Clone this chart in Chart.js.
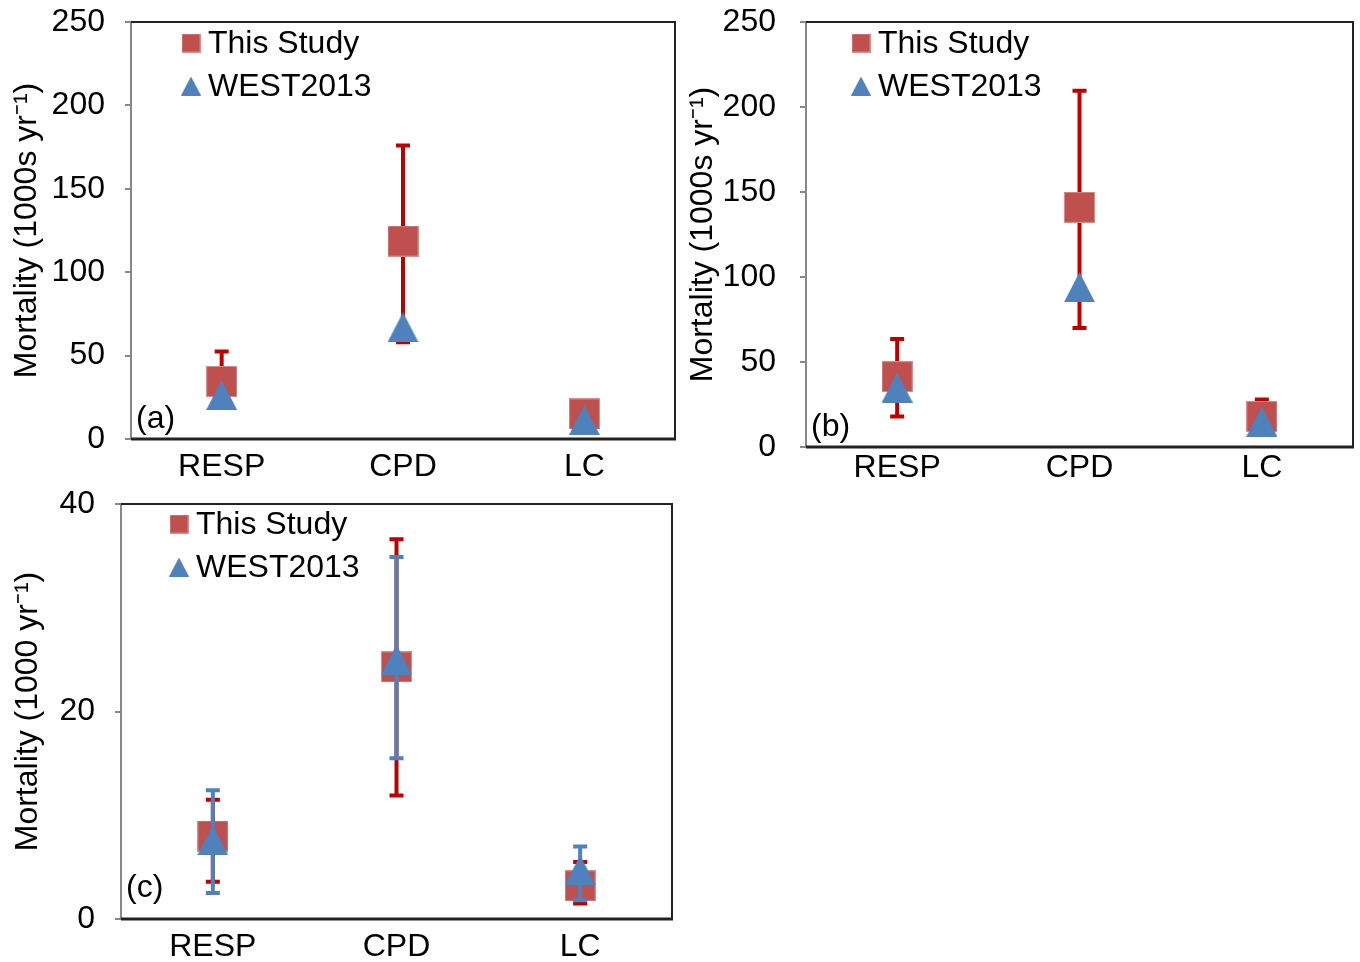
<!DOCTYPE html>
<html>
<head>
<meta charset="utf-8">
<script src="https://cdn.jsdelivr.net/npm/chart.js@4.4.1/dist/chart.umd.min.js"></script>
<style>
  body { margin: 0; background: #fff; overflow: hidden; }
  #wrap { position: relative; width: 1360px; height: 962px; background: #fff; overflow: hidden; }
  canvas { position: absolute; }
</style>
</head>
<body>
<div id="wrap">
  <canvas id="chartA" width="690" height="490" style="left:0px;top:0px"></canvas>
  <canvas id="chartB" width="680" height="490" style="left:680px;top:0px"></canvas>
  <canvas id="chartC" width="690" height="482" style="left:0px;top:480px"></canvas>
</div>
<script>
// categories and series values
const categories = ["RESP", "CPD", "LC"];
const seriesNames = ["This Study", "WEST2013"];

// panel (a)
const studyA = [34.5, 118.7, 15];
const studyA_lo = [22, 58, null];
const studyA_hi = [52.5, 176, null];
const westA = [26.4, 67, 11.4];

// panel (b)
const studyB = [41.4, 141, 18];
const studyB_lo = [18, 70, null];
const studyB_hi = [63.5, 209.6, 28];
const westB = [35, 94, 15];

// panel (c)
const studyC = [8.0, 24.3, 3.2];
const studyC_lo = [3.6, 11.9, 1.5];
const studyC_hi = [11.5, 36.6, 5.5];
const westC = [7.6, 25.0, 4.7];
const westC_lo = [2.5, 15.5, 1.8];
const westC_hi = [12.4, 34.9, 7.0];

const squareFill = "#C0504D";
const triFill = "#4F81BD";
const redBar = "#C00000";
const blueBar = "#4F81BD";
const FONT = "'Liberation Sans', Arial, sans-serif";

function squareImg(size) {
    const c = document.createElement("canvas");
    c.width = size; c.height = size;
    const g = c.getContext("2d");
    g.fillStyle = squareFill;
    g.fillRect(0, 0, size, size);
    g.strokeStyle = "rgba(255,255,255,0.35)";
    g.lineWidth = 1;
    g.strokeRect(0.5, 0.5, size - 1, size - 1);
    return c;
}

function triangleImg(w, h) {
    const c = document.createElement("canvas");
    c.width = w; c.height = h;
    const g = c.getContext("2d");
    g.fillStyle = triFill;
    g.beginPath();
    g.moveTo(w / 2, 0);
    g.lineTo(w, h);
    g.lineTo(0, h);
    g.closePath();
    g.fill();
    return c;
}

const bigSquare = squareImg(31);
const bigTri = triangleImg(31, 30);
const smallSquare = squareImg(19);
const smallTri = triangleImg(20, 19);

// error bars, drawn just before the dataset's markers
const errorBarPlugin = {
    id: "errorBars",
    beforeDatasetDraw(chart, args) {
        const ds = chart.data.datasets[args.index];
        if (!ds.errLo) return;
        const ctx = chart.ctx;
        const x = chart.scales.x, y = chart.scales.y;
        ctx.save();
        ctx.strokeStyle = ds.errColor;
        ctx.lineWidth = 4;
        ctx.lineCap = "butt";
        for (let i = 0; i < ds.data.length; i++) {
            const lo = ds.errLo[i], hi = ds.errHi[i];
            const px = x.getPixelForValue(i);
            const py = y.getPixelForValue(ds.data[i]);
            ctx.beginPath();
            if (hi != null) {
                const yh = y.getPixelForValue(hi);
                ctx.moveTo(px, py); ctx.lineTo(px, yh);
                ctx.moveTo(px - 7, yh); ctx.lineTo(px + 7, yh);
            }
            if (lo != null) {
                const yl = y.getPixelForValue(lo);
                ctx.moveTo(px, py); ctx.lineTo(px, yl);
                ctx.moveTo(px - 7, yl); ctx.lineTo(px + 7, yl);
            }
            ctx.stroke();
        }
        ctx.restore();
    }
};

// frame, legend and panel letter
const framePlugin = {
    id: "frame",
    beforeDatasetsDraw(chart) {
        const a = chart.chartArea, ctx = chart.ctx;
        ctx.save();
        ctx.strokeStyle = "#222";
        ctx.lineWidth = 2;
        ctx.beginPath();
        ctx.moveTo(a.left, a.top); ctx.lineTo(a.right, a.top); ctx.lineTo(a.right, a.bottom);
        ctx.stroke();
        ctx.lineWidth = 3;
        ctx.beginPath();
        ctx.moveTo(a.left, a.bottom); ctx.lineTo(a.right + 1, a.bottom);
        ctx.stroke();
        ctx.restore();
    },
    afterDraw(chart, args, opts) {
        const a = chart.chartArea, ctx = chart.ctx;
        ctx.save();
        ctx.font = "32px " + FONT;
        ctx.fillStyle = "#000";
        ctx.textBaseline = "middle";
        const lx = a.left + opts.legendX;
        const ly = a.top + opts.legendY;
        ctx.drawImage(smallSquare, lx - 9.5, ly - 9.5);
        ctx.fillText(seriesNames[0], lx + 17, ly + 1);
        ctx.drawImage(smallTri, lx - 10, ly + 43 - 9.5);
        ctx.fillText(seriesNames[1], lx + 17, ly + 44);
        ctx.fillText(opts.letter, a.left + 5, a.bottom - opts.letterY);
        ctx.restore();
    }
};

function makePanel(id, study, lo, hi, west, wLo, wHi, cfg) {
    const datasets = [
        {
            label: seriesNames[0], data: study, errLo: lo, errHi: hi, errColor: redBar,
            showLine: false, pointStyle: bigSquare, pointRadius: 15, order: 1
        },
        {
            label: seriesNames[1], data: west, errLo: wLo, errHi: wHi, errColor: blueBar,
            showLine: false, pointStyle: bigTri, pointRadius: 15, order: 0
        }
    ];
    return new Chart(document.getElementById(id).getContext("2d"), {
        type: "line",
        data: { labels: categories, datasets: datasets },
        plugins: [errorBarPlugin, framePlugin],
        options: {
            responsive: false,
            animation: false,
            devicePixelRatio: 1,
            layout: { autoPadding: false, padding: { top: cfg.top, right: cfg.right, left: 0, bottom: 0 } },
            plugins: {
                legend: { display: false },
                tooltip: { enabled: false },
                frame: { legendX: cfg.legendX, legendY: cfg.legendY, letter: cfg.letter, letterY: cfg.letterY }
            },
            scales: {
                x: {
                    type: "category",
                    offset: true,
                    grid: { display: false, drawTicks: false },
                    border: { display: false },
                    ticks: { color: "#000", font: { family: FONT, size: 32 }, padding: cfg.xPad, maxRotation: 0 },
                    afterFit: s => { s.height = cfg.xHeight; s.paddingLeft = 0; s.paddingRight = 0; }
                },
                y: {
                    min: 0, max: cfg.max,
                    ticks: { stepSize: cfg.step, color: "#000", font: { family: FONT, size: 32 }, padding: cfg.yPad },
                    grid: { drawOnChartArea: false, drawTicks: true, tickLength: 6, color: "#888", lineWidth: 2 },
                    border: { color: "#888", width: 2 },
                    title: {
                        display: true, text: cfg.title, color: "#000",
                        font: { family: FONT, size: 32 }, padding: { top: cfg.titlePad, bottom: 0 }
                    },
                    afterFit: s => { s.width = cfg.yWidth; s.paddingTop = 0; s.paddingBottom = 0; }
                }
            }
        }
    });
}

makePanel("chartA", studyA, studyA_lo, studyA_hi, westA, null, null, {
    top: 22, right: 15, xHeight: 51, xPad: 9, yWidth: 131, yPad: 20, titlePad: 8,
    max: 250, step: 50, title: "Mortality (1000s yr\u207B\u00B9)",
    legendX: 60, legendY: 21, letter: "(a)", letterY: 20
});
makePanel("chartB", studyB, studyB_lo, studyB_hi, westB, null, null, {
    top: 22, right: 7, xHeight: 43, xPad: 2, yWidth: 126, yPad: 24, titlePad: 4,
    max: 250, step: 50, title: "Mortality (1000s yr\u207B\u00B9)",
    legendX: 55, legendY: 21, letter: "(b)", letterY: 20
});
makePanel("chartC", studyC, studyC_lo, studyC_hi, westC, westC_lo, westC_hi, {
    top: 24, right: 18, xHeight: 43, xPad: 9, yWidth: 121, yPad: 20, titlePad: 9,
    max: 40, step: 20, title: "Mortality (1000 yr\u207B\u00B9)",
    legendX: 58, legendY: 20, letter: "(c)", letterY: 31
});
</script>
</body>
</html>
